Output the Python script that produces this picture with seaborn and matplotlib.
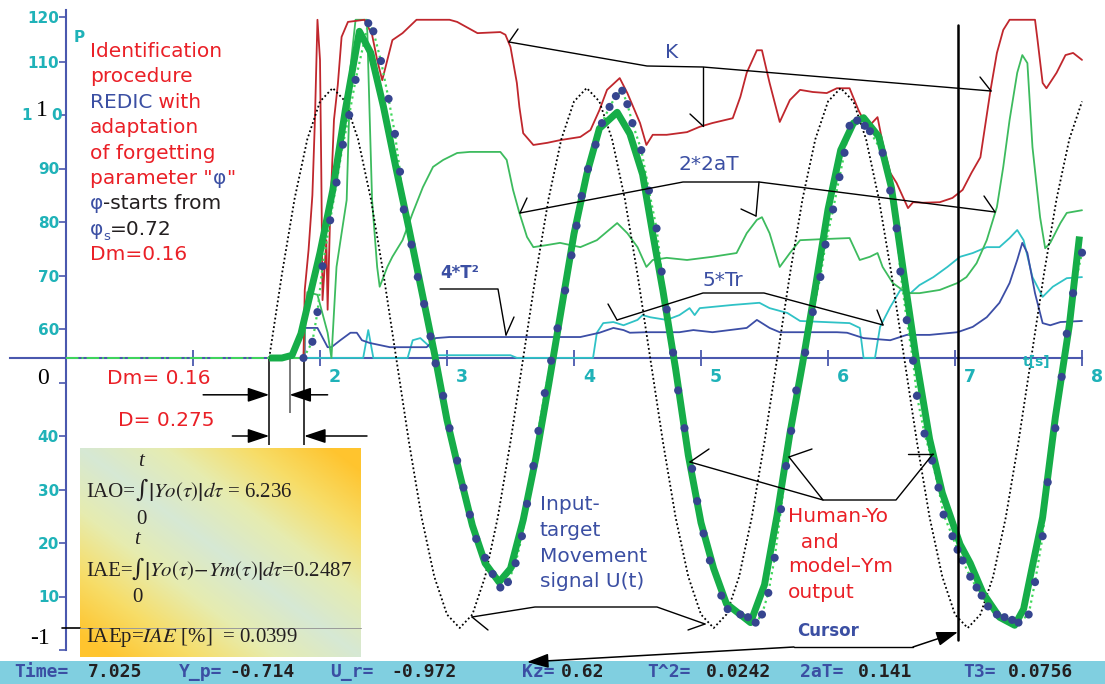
import numpy as np
import matplotlib
matplotlib.use("Agg")
import matplotlib.pyplot as plt
import matplotlib.transforms as mtransforms
from matplotlib.lines import Line2D
from matplotlib.patches import Rectangle, FancyArrowPatch
from matplotlib.colors import LinearSegmentedColormap
import seaborn as sns

# ---------------- values ----------------
# time axis
time_ticks = [1, 2, 3, 4, 5, 6, 7, 8]
time_labels = ["", "2", "3", "4", "5", "6", "7", "8"]
# left scale (parameter traces); top tick sits a little low in the original
left_ticks = [0, 10, 20, 30, 40, 50, 60, 70, 80, 90, 100, 110, 118.3]
left_labels = ["", "10", "20", "30", "40", "", "60", "70", "80", "90", "", "110", "120"]

# input-target movement signal U(t), normalised units, every 0.1 s from 1.6 s
u_t = np.round(np.arange(1.6, 8.05, 0.1), 2)
u_in = [0.00, 0.31, 0.59, 0.81, 0.95, 1.00, 0.95, 0.81, 0.59, 0.31,
        0.00, -0.31, -0.59, -0.81, -0.95, -1.00, -0.95, -0.81, -0.59, -0.31,
        0.00, 0.31, 0.59, 0.81, 0.95, 1.00, 0.95, 0.81, 0.59, 0.31,
        0.00, -0.31, -0.59, -0.81, -0.95, -1.00, -0.95, -0.81, -0.59, -0.31,
        0.00, 0.31, 0.59, 0.81, 0.95, 1.00, 0.95, 0.81, 0.59, 0.31,
        0.00, -0.31, -0.59, -0.81, -0.95, -1.00, -0.95, -0.81, -0.59, -0.31,
        0.00, 0.31, 0.59, 0.81, 0.95]

# human output Yo (thick green)
yo_t = [1.60, 1.70, 1.78, 1.85, 1.90, 2.00, 2.10, 2.20, 2.31, 2.40, 2.50, 2.60, 2.70,
        2.80, 2.90, 3.00, 3.10, 3.20, 3.30, 3.41, 3.50, 3.60, 3.70, 3.80, 3.90, 4.00,
        4.10, 4.20, 4.34, 4.44, 4.54, 4.62, 4.70, 4.80, 4.90, 5.00, 5.10, 5.20, 5.39,
        5.50, 5.60, 5.70, 5.80, 5.90, 6.00, 6.10, 6.20, 6.28, 6.40, 6.50, 6.60, 6.70,
        6.80, 6.90, 7.04, 7.12, 7.22, 7.35, 7.47, 7.54, 7.61, 7.69, 7.79, 7.90, 7.98]
yo_u = [0.00, 0.00, 0.01, 0.09, 0.19, 0.39, 0.62, 0.92, 1.21, 1.13, 0.93, 0.70, 0.48,
        0.25, 0.02, -0.23, -0.43, -0.62, -0.76, -0.83, -0.78, -0.60, -0.37, -0.10, 0.18, 0.46,
        0.68, 0.85, 0.91, 0.83, 0.68, 0.46, 0.25, -0.04, -0.36, -0.61, -0.78, -0.91, -0.98,
        -0.84, -0.58, -0.28, -0.02, 0.26, 0.55, 0.77, 0.87, 0.89, 0.82, 0.63, 0.30, -0.02,
        -0.30, -0.50, -0.69, -0.76, -0.87, -0.96, -0.99, -0.93, -0.77, -0.59, -0.22, 0.12, 0.45]

# model output Ym (blue sample dots)
ym_t = [1.87, 1.94, 1.98, 2.02, 2.08, 2.13, 2.18, 2.23, 2.28, 2.38,
        2.42, 2.48, 2.54, 2.59, 2.63, 2.66, 2.72, 2.77, 2.82, 2.87,
        2.91, 2.97, 3.02, 3.08, 3.13, 3.18, 3.23, 3.30, 3.36, 3.42,
        3.48, 3.54, 3.59, 3.63, 3.68, 3.72, 3.77, 3.82, 3.87, 3.93,
        3.98, 4.02, 4.06, 4.11, 4.17, 4.22, 4.28, 4.33, 4.38, 4.42,
        4.46, 4.53, 4.59, 4.65, 4.69, 4.73, 4.78, 4.82, 4.87, 4.93,
        4.97, 5.02, 5.07, 5.16, 5.21, 5.31, 5.37, 5.43, 5.48, 5.53,
        5.58, 5.63, 5.67, 5.71, 5.75, 5.82, 5.88, 5.94, 5.98, 6.04,
        6.09, 6.13, 6.17, 6.23, 6.29, 6.33, 6.43, 6.49, 6.54, 6.57,
        6.62, 6.67, 6.70, 6.76, 6.82, 6.87, 6.91, 6.98, 7.02, 7.06,
        7.12, 7.17, 7.21, 7.26, 7.33, 7.39, 7.45, 7.50, 7.58, 7.63,
        7.69, 7.73, 7.79, 7.84, 7.88, 7.93, 8.00]
ym_u = [0.00, 0.06, 0.17, 0.34, 0.51, 0.65, 0.79, 0.90, 1.03, 1.24,
        1.21, 1.10, 0.96, 0.83, 0.69, 0.55, 0.42, 0.30, 0.20, 0.08,
        -0.02, -0.14, -0.26, -0.38, -0.48, -0.58, -0.67, -0.74, -0.80, -0.85,
        -0.83, -0.76, -0.66, -0.54, -0.40, -0.27, -0.13, -0.01, 0.11, 0.25,
        0.38, 0.49, 0.60, 0.70, 0.79, 0.87, 0.93, 0.97, 0.99, 0.94,
        0.87, 0.77, 0.62, 0.48, 0.32, 0.18, 0.02, -0.12, -0.26, -0.41,
        -0.53, -0.65, -0.75, -0.88, -0.93, -0.95, -0.96, -0.98, -0.95, -0.87,
        -0.74, -0.56, -0.40, -0.27, -0.12, 0.02, 0.17, 0.30, 0.42, 0.55,
        0.67, 0.76, 0.86, 0.88, 0.86, 0.84, 0.76, 0.62, 0.48, 0.32,
        0.14, -0.01, -0.14, -0.28, -0.38, -0.48, -0.58, -0.66, -0.71, -0.75,
        -0.81, -0.85, -0.88, -0.92, -0.95, -0.96, -0.97, -0.98, -0.95, -0.83,
        -0.66, -0.46, -0.26, -0.07, 0.09, 0.24, 0.39]
# model output before the movement starts
flat_t = [0.0, 1.87]
flat_u = [0.0, 0.0]

# gain K (dark red)
k_t = [1.87, 1.88, 1.91, 1.94, 1.96, 1.98, 2.00, 2.01, 2.02, 2.05, 2.06, 2.08, 2.11, 2.14,
       2.17, 2.22, 2.35, 2.41, 2.45, 2.49, 2.54, 2.57, 2.65, 2.76, 3.02, 3.08, 3.24, 3.42,
       3.46, 3.50, 3.55, 3.57, 3.60, 3.68, 3.79, 3.89, 4.05, 4.13, 4.20, 4.26, 4.36, 4.42,
       4.52, 4.57, 4.62, 4.73, 4.89, 4.99, 5.09, 5.25, 5.31, 5.36, 5.44, 5.48, 5.54, 5.62,
       5.70, 5.78, 5.88, 5.99, 6.07, 6.17, 6.24, 6.31, 6.39, 6.43, 6.49, 6.54, 6.63, 6.67,
       6.75, 6.88, 6.98, 7.06, 7.13, 7.20, 7.28, 7.33, 7.38, 7.43, 7.63, 7.65, 7.69, 7.72,
       7.80, 7.87, 7.93, 8.00]
k_v = [54.6, 67.3, 74.8, 85.0, 99.1, 117.8, 110.3, 89.7, 65.4, 76.6, 63.6, 81.3, 99.1, 105.6,
       114.6, 117.4, 117.8, 115.0, 110.3, 106.5, 111.2, 114.0, 115.3, 117.8, 117.8, 117.4, 115.3, 115.5,
       115.0, 112.7, 106.0, 101.5, 96.6, 94.4, 94.8, 95.3, 95.9, 97.2, 100.9, 104.7, 106.9, 104.1,
       98.5, 94.4, 96.3, 96.3, 96.8, 97.8, 98.5, 99.4, 103.4, 107.9, 112.1, 112.1, 106.0, 98.7,
       102.8, 104.7, 104.3, 104.1, 105.0, 105.0, 100.9, 97.6, 99.6, 94.8, 89.2, 87.3, 82.6, 83.7,
       83.6, 83.7, 84.5, 86.0, 89.2, 92.1, 104.7, 111.6, 115.9, 117.8, 117.8, 114.0, 106.0, 105.0,
       107.9, 111.2, 111.6, 110.3]

# 2*2aT (green)
a2_t = [1.87, 1.90, 1.98, 2.06, 2.09, 2.13, 2.17, 2.21, 2.24, 2.28, 2.37, 2.38, 2.41, 2.45,
        2.47, 2.53, 2.57, 2.65, 2.73, 2.81, 2.89, 2.97, 3.08, 3.18, 3.42, 3.47, 3.52, 3.57,
        3.63, 3.68, 3.79, 3.89, 4.05, 4.18, 4.34, 4.42, 4.50, 4.57, 4.62, 4.73, 4.89, 5.09,
        5.28, 5.36, 5.44, 5.48, 5.54, 5.62, 5.70, 5.78, 5.96, 6.17, 6.25, 6.33, 6.39, 6.43,
        6.51, 6.62, 6.72, 6.88, 7.02, 7.09, 7.17, 7.25, 7.33, 7.38, 7.43, 7.49, 7.53, 7.57,
        7.61, 7.67, 7.71, 7.75, 7.83, 7.88, 8.00]
a2_v = [54.6, 66.9, 66.4, 59.3, 54.6, 71.6, 77.9, 84.1, 109.0, 117.8, 117.8, 109.0, 84.1, 71.6,
        67.9, 71.6, 73.5, 76.6, 81.7, 86.5, 90.3, 91.6, 92.9, 93.1, 93.1, 91.6, 86.0, 81.7,
        77.2, 75.3, 75.7, 76.1, 75.3, 76.6, 79.8, 77.9, 75.3, 71.6, 72.9, 73.3, 72.9, 73.5,
        74.2, 77.9, 80.4, 80.9, 77.9, 71.6, 74.2, 76.6, 76.8, 77.0, 72.9, 73.5, 74.2, 71.6,
        68.6, 66.7, 66.7, 67.3, 68.6, 69.7, 72.3, 76.6, 82.8, 90.3, 99.1, 107.9, 111.2, 109.7,
        94.0, 80.9, 75.1, 76.1, 79.8, 81.7, 82.2]

# 4*T^2 (blue)
t2_t = [1.88, 1.88, 1.98, 2.06, 2.09, 2.16, 2.24, 2.29, 2.33, 2.39, 2.55, 2.84, 2.91, 3.02,
        3.50, 4.05, 4.20, 4.31, 4.39, 4.44, 4.57, 4.83, 4.94, 5.09, 5.36, 5.44, 5.54, 5.62,
        6.07, 6.15, 6.28, 6.49, 6.62, 6.80, 7.02, 7.14, 7.25, 7.35, 7.43, 7.49, 7.53, 7.57,
        7.63, 7.69, 7.75, 7.83, 8.00]
t2_v = [54.8, 60.2, 60.2, 56.6, 56.6, 57.9, 59.3, 59.3, 57.9, 57.4, 56.6, 56.6, 58.3, 58.5,
        58.5, 58.5, 59.3, 60.2, 59.8, 59.3, 59.4, 59.4, 59.8, 59.4, 60.2, 61.7, 60.2, 59.4,
        59.4, 59.3, 58.3, 57.9, 58.9, 58.9, 59.4, 60.4, 62.2, 64.9, 68.6, 72.9, 76.1, 74.2,
        66.7, 61.1, 60.7, 61.3, 61.5]

# 5*Tr (cyan)
tr_t = [1.84, 2.34, 2.38, 2.42, 2.69, 2.73, 2.79, 2.85, 2.92, 3.50, 3.55, 4.15, 4.18, 4.23,
        4.31, 4.39, 4.50, 4.54, 4.60, 4.73, 4.83, 4.91, 4.95, 4.99, 5.25, 5.46, 5.54, 5.68,
        5.78, 6.17, 6.25, 6.28, 6.37, 6.41, 6.49, 6.57, 6.65, 6.72, 6.83, 6.94, 7.04, 7.14,
        7.25, 7.35, 7.43, 7.49, 7.54, 7.61, 7.69, 7.77, 7.88, 8.00]
tr_v = [54.6, 54.6, 59.8, 54.6, 54.6, 57.9, 58.3, 57.0, 55.1, 55.1, 54.6, 54.6, 59.3, 61.1,
        61.3, 60.7, 61.7, 62.6, 62.2, 61.7, 62.6, 63.9, 62.6, 63.9, 64.5, 64.9, 63.9, 63.0,
        61.5, 61.1, 60.2, 54.6, 54.6, 60.4, 64.1, 67.3, 66.7, 68.2, 69.7, 71.6, 73.5, 74.2,
        75.3, 75.3, 77.0, 78.5, 76.6, 69.7, 66.0, 67.9, 69.5, 69.7]

# delays and cursor
move_start = 1.6
dm_delay = 0.16
d_delay = 0.275
cursor_time = 7.025

status_names = ["Time=", "Y_p=", "U_r=", "Kz=", "T^2=", "2aT=", "T3="]
status_values = ["7.025", "-0.714", "-0.972", "0.62", "0.0242", "0.141", "0.0756"]

# ---------------- colours ----------------
C_AXIS = "#4a58ae"
C_TICK = "#1fb2b8"
C_K = "#c0272d"
C_A2 = "#3dbb5e"
C_T2 = "#3c4ea6"
C_TR = "#2fc2c6"
C_YO = "#16ad48"
C_YM = "#3fd85a"
C_DOT = "#36458f"
C_RED = "#ea2027"
C_BLUE = "#3b4fa3"
C_DARK = "#231f20"
C_BAR = "#80cfe0"

W, H = 1105, 684

sns.set_theme(style="white")
plt.rcParams["font.family"] = ["DejaVu Sans"]
plt.rcParams["mathtext.fontset"] = "stix"

fig = plt.figure(figsize=(W / 100, H / 100), dpi=100)
fig.patch.set_facecolor("white")
ax = fig.add_axes([0, 0, 1, 1])
ax2 = ax.twinx()

# pixel coordinates (origin top-left) for annotation furniture
pix = mtransforms.Affine2D().scale(1 / W, -1 / H).translate(0, 1) + fig.transFigure

# parameter traces on the 0..120 scale
line_kw = dict(estimator=None, sort=False, legend=False)
sns.lineplot(x=tr_t, y=tr_v, ax=ax, color=C_TR, lw=1.3, **line_kw)
sns.lineplot(x=t2_t, y=t2_v, ax=ax, color=C_T2, lw=1.3, **line_kw)
sns.lineplot(x=a2_t, y=a2_v, ax=ax, color=C_A2, lw=1.3, **line_kw)
sns.lineplot(x=k_t, y=k_v, ax=ax, color=C_K, lw=1.3, **line_kw)

# signals on the normalised -1..1 scale
sns.lineplot(x=u_t, y=u_in, ax=ax2, color="black", lw=1.3, linestyle=(0, (1, 1.4)), **line_kw)
sns.lineplot(x=flat_t, y=flat_u, ax=ax2, color=C_YM, lw=1.4, linestyle="-.", **line_kw)
sns.lineplot(x=ym_t, y=ym_u, ax=ax2, color=C_YM, lw=1.6, linestyle=":", **line_kw)
sns.lineplot(x=yo_t, y=yo_u, ax=ax2, color=C_YO, lw=5, solid_capstyle="butt", **line_kw)
sns.scatterplot(x=ym_t, y=ym_u, ax=ax2, color=C_DOT, s=34, edgecolor="none", zorder=6, legend=False)
ax2.axvline(cursor_time, ymin=(H - 640) / H, ymax=(H - 25) / H, color="black", lw=1.8, zorder=7)

# scales
ax.set_xlim(-66 / 127, (W - 66) / 127)
ax.set_ylim(-34 / 5.35, 650 / 5.35)
ax2.set_ylim(-(H - 358) / 270, 358 / 270)

for side in ["top", "right"]:
    ax.spines[side].set_visible(False)
for side in ax2.spines:
    ax2.spines[side].set_visible(False)
ax2.set_yticks([])
ax2.set_ylabel("")
ax.set_xlabel("")
ax.set_ylabel("")

ax.spines["left"].set_position(("data", 0))
ax.spines["left"].set_bounds(0, 119.6)
ax.spines["bottom"].set_position(("data", 292 / 5.35))
ax.spines["bottom"].set_bounds(-0.44, 8.0)
for side in ["left", "bottom"]:
    ax.spines[side].set_color(C_AXIS)
    ax.spines[side].set_linewidth(1.5)
    ax.spines[side].set_zorder(1)

ax.set_yticks(left_ticks, left_labels, fontweight="bold")
ax.set_xticks(time_ticks, time_labels, fontweight="bold")
ax.tick_params(axis="y", direction="out", length=5, width=1.2, color=C_AXIS,
               labelcolor=C_TICK, labelsize=11, pad=0, left=True)
ax.tick_params(axis="x", direction="inout", length=11, width=1.3, color=C_AXIS,
               labelcolor=C_TICK, labelsize=12.5, pad=2, bottom=True)
shift = mtransforms.ScaledTranslation(0.15, 0, fig.dpi_scale_trans)
for lbl in ax.get_xticklabels():
    lbl.set_transform(lbl.get_transform() + shift)

# delay dimension lines
ax.vlines([move_start, move_start + d_delay], 38.3, 54.6, color="black", lw=1.1)
ax.vlines([move_start + dm_delay], 44.3, 54.6, color="#555555", lw=1.1)
arrow_kw = dict(arrowstyle="-|>,head_length=0.6,head_width=0.2", color="black", lw=1.1,
                shrinkA=0, shrinkB=0, mutation_scale=22)
for y_dim, right_end, left_start, right_start in [(47.7, move_start + dm_delay, 1.08, 2.06),
                                                   (40.0, move_start + d_delay, 1.31, 2.37)]:
    ax.annotate("", xy=(move_start, y_dim), xytext=(left_start, y_dim), arrowprops=arrow_kw)
    ax.annotate("", xy=(right_end, y_dim), xytext=(right_start, y_dim), arrowprops=arrow_kw)

# formula box with a diagonal gradient
bax = fig.add_axes([80 / W, 1 - 657 / H, 281 / W, 209 / H])
gx = np.linspace(0, 1, 281)
gy = np.linspace(1, 0, 209)
shade = np.abs(gx[None, :] + gy[:, None] - 1.0)
box_cmap = LinearSegmentedColormap.from_list("box", ["#d6e8d4", "#e6ecb0", "#f7dd68", "#ffc42e"])
bax.imshow(shade, cmap=box_cmap, vmin=0, vmax=0.9, aspect="auto", interpolation="bilinear")
bax.set_axis_off()


def leader(points, color="black", lw=1.0):
    xs, ys = zip(*points)
    fig.add_artist(Line2D(xs, ys, transform=pix, color=color, lw=lw, zorder=8))


def arrow(start, end):
    fig.add_artist(FancyArrowPatch(start, end, transform=pix, zorder=8, **arrow_kw))


leader([(62, 628), (80, 628)], lw=1.2)
leader([(80, 628), (361, 628)], color="#9a9a9a", lw=0.7)

# leader lines
leader([(509, 42), (647, 66), (703, 67), (991, 91)])
leader([(703, 67), (703, 126)])
leader([(518, 29), (509, 42)])
leader([(690, 114), (703, 126)])
leader([(980, 77), (991, 91)])
leader([(520, 213), (683, 182), (759, 182), (995, 212)])
leader([(759, 182), (756, 216)])
leader([(527, 198), (520, 213)])
leader([(741, 209), (756, 216)])
leader([(984, 196), (995, 212)])
leader([(617, 320), (703, 293), (764, 293), (883, 325)])
leader([(608, 304), (617, 320)])
leader([(877, 310), (883, 325)])
leader([(440, 289), (498, 289), (506, 335)])
leader([(514, 317), (506, 335)])
leader([(472, 617), (535, 607), (657, 607), (705, 624)])
leader([(488, 630), (472, 617)])
leader([(688, 630), (705, 624)])
leader([(690, 462), (823, 500), (789, 457)])
leader([(823, 500), (896, 500), (933, 454)])
leader([(709, 449), (690, 462)])
leader([(812, 449), (789, 457)])
leader([(908, 454), (933, 454)])
leader([(794, 647), (913, 647)])
arrow((794, 647), (527, 662))
arrow((913, 647), (958, 632))


def ptext(x, y, s, **kw):
    return fig.text(x, y, s, transform=pix, zorder=9, **kw)


def chain(x, y, parts, size=14.5, **kw):
    prev = ptext(x, y, parts[0][0], color=parts[0][1], fontsize=size, va="baseline", **kw)
    for s, c in parts[1:]:
        prev = ax.annotate(s, xy=(1, 0), xycoords=prev, va="bottom", color=c,
                           fontsize=size, zorder=9, **kw)
    return prev


# description block, top left
base = 57
step = 25.4
chain(90, base, [("Identification", C_RED)])
chain(90, base + step, [("procedure", C_RED)])
chain(90, base + 2 * step, [("REDIC", C_BLUE), (" with", C_RED)])
chain(90, base + 3 * step, [("adaptation", C_RED)])
chain(90, base + 4 * step, [("of forgetting", C_RED)])
chain(90, base + 5 * step, [('parameter "', C_RED), ("φ", C_BLUE), ('"', C_RED)])
chain(90, base + 6 * step, [("φ", C_BLUE), ("-starts from", C_DARK)])
phi = ptext(90, base + 7 * step, "φ", color=C_BLUE, fontsize=14.5, va="baseline")
sub = ax.annotate("s", xy=(1, 0), xycoords=phi, xytext=(0, -3), textcoords="offset points",
                  va="bottom", color=C_BLUE, fontsize=9.5)
ax.annotate("=0.72", xy=(1, 0), xycoords=(sub, phi), va="bottom", color=C_DARK, fontsize=14.5)
chain(90, base + 8 * step, [("Dm=0.16", C_RED)])
ptext(79, 38, "P", color=C_TICK, fontsize=11, fontweight="bold", ha="center", va="center")

# series labels
ptext(665, 52, "K", color=C_BLUE, fontsize=14.5, va="center")
ptext(679, 165, "2*2aT", color=C_BLUE, fontsize=14.5, va="center")
ptext(703, 280, "5*Tr", color=C_BLUE, fontsize=14.5, va="center")
ptext(440, 273, "4*T²", color=C_BLUE, fontsize=12, fontweight="bold", va="center")
for i, s in enumerate(["Input-", "target", "Movement", "signal U(t)"]):
    ptext(540, 505 + 25.5 * i, s, color=C_BLUE, fontsize=14.5, va="center")
for i, s in enumerate(["Human-Yo", "  and", "model–Ym", "output"]):
    ptext(788, 517 + 25 * i, s, color=C_RED, fontsize=14.5, va="center")
ptext(797, 631, "Cursor", color=C_BLUE, fontsize=12, fontweight="bold", va="center")
ptext(107, 378, "Dm= 0.16", color=C_RED, fontsize=14.5, va="center")
ptext(118, 420, "D= 0.275", color=C_RED, fontsize=14.5, va="center")
ptext(1023, 362, "t[s]", color=C_TICK, fontsize=10, fontweight="bold", va="center")

# normalised signal scale written over the left axis (the "100" label shows around it)
cyan_kw = dict(color=C_TICK, fontsize=11, fontweight="bold", ha="center", va="center")
ptext(27, 115, "1", **cyan_kw)
ptext(57, 115, "0", **cyan_kw)
serif = dict(family="Liberation Serif", color="black", fontsize=17, ha="center", va="center")
ptext(42, 110, "1", **serif)
ptext(43, 378, "0", **serif)
ptext(40, 638, "-1", **serif)

# integral criteria
fkw = dict(family="Liberation Serif", color=C_DARK, fontsize=15, va="baseline")
ikw = dict(family="DejaVu Serif", color=C_DARK, fontsize=17, va="center")
ptext(86, 497, "IAO=", **fkw)
ptext(135, 490, "∫", **ikw)
ptext(148, 497, r"$\left|Yo(\tau)\right|d\tau$ = 6.236", **fkw)
ptext(86, 576, "IAE=", **fkw)
ptext(131, 569, "∫", **ikw)
ptext(144, 576, r"$\left|Yo(\tau){-}Ym(\tau)\right|d\tau$=0.2487", **fkw)
ptext(86, 642, r"IAEp=$IAE$ [%]  = 0.0399", **fkw)
lim_kw = dict(family="Liberation Serif", color=C_DARK, fontsize=15, ha="center", va="center")
ptext(141, 461, "t", style="italic", **lim_kw)
ptext(141, 519, "0", **lim_kw)
ptext(137, 540, "t", style="italic", **lim_kw)
ptext(137, 598, "0", **lim_kw)

# status bar
fig.add_artist(Rectangle((0, 661), W, 23, transform=pix, facecolor=C_BAR,
                         edgecolor="none", zorder=7))
name_x = [14, 179, 330, 522, 647, 800, 963]
value_x = [88, 229, 391, 561, 706, 858, 1008]
bar_kw = dict(family="DejaVu Sans Mono", fontweight="bold", fontsize=13, va="center")
for nm, val, nx, vx in zip(status_names, status_values, name_x, value_x):
    ptext(nx, 672, nm, color=C_BLUE, **bar_kw)
    ptext(vx, 672, val, color=C_DARK, **bar_kw)

fig.savefig("out.png", dpi=100)
